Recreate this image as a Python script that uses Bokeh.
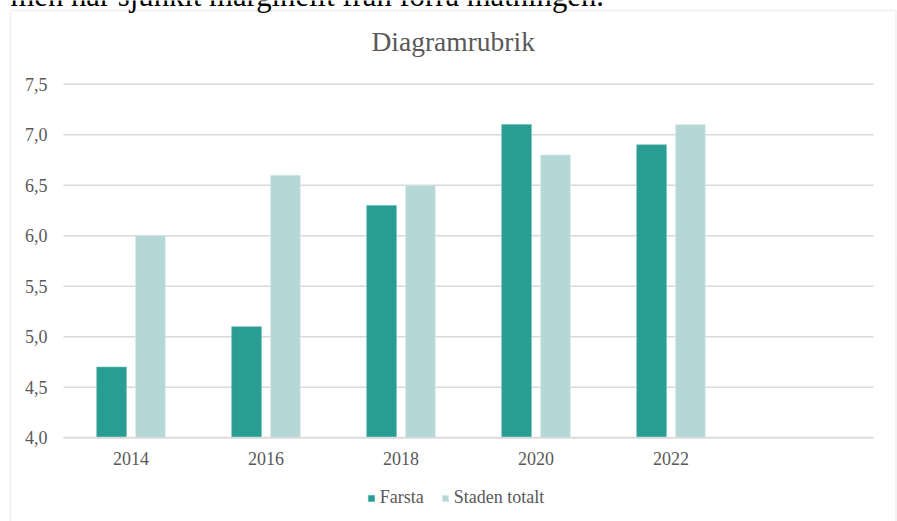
from bokeh.plotting import figure
from bokeh.models import (Range1d, ColumnDataSource, FixedTicker, Legend, LegendItem, Label,
                          BoxAnnotation, CustomJSTickFormatter)
from bokeh.transform import dodge
from bokeh.embed import file_html
from bokeh.resources import INLINE

# ---- data ----
years = ["2014", "2016", "2018", "2020", "2022", " "]
farsta = [4.7, 5.1, 6.3, 7.1, 6.9, None]
staden = [6.0, 6.6, 6.5, 6.8, 7.1, None]
y_ticks = [4.0, 4.5, 5.0, 5.5, 6.0, 6.5, 7.0, 7.5]
title_text = "Diagramrubrik"
series_names = ["Farsta", "Staden totalt"]
doc_text = "men har sjunkit marginellt från förra mätningen."

# ---- style ----
FONT = "Liberation Serif"
TXT = "#595959"
GRID = "#d9d9d9"
C1 = "#2a9d93"
C2 = "#b5d8d6"

W, H = 897, 521
NX = len(years)
Y0, Y1 = y_ticks[0], y_ticks[-1]
# plot-area placement inside the canvas (pixels)
PX_L, PX_R, PX_T, PX_B = 63.0, 873.0, 83.7, 437.3
ppx = (PX_R - PX_L) / NX
ppy = (PX_B - PX_T) / (Y1 - Y0)
x_start = -PX_L / ppx
x_end = NX + (W - PX_R) / ppx
y_end = Y1 + PX_T / ppy
y_start = Y0 - (H - PX_B) / ppy

def px_to_x(px):
    return x_start + px / ppx
def px_to_y(py):
    return y_end - py / ppy

nan = float("nan")
src = ColumnDataSource(dict(
    xc=[i + 0.5 for i in range(NX)],
    year=years,
    farsta=[v if v is not None else nan for v in farsta],
    staden=[v if v is not None else nan for v in staden]))

p = figure(width=W, height=H, output_backend="svg", toolbar_location=None,
           x_range=Range1d(x_start, x_end), y_range=Range1d(y_start, y_end),
           min_border=0, min_border_left=0, min_border_right=0, min_border_top=0, min_border_bottom=0)
p.outline_line_color = None
p.background_fill_color = "white"
p.border_fill_color = "white"
p.xgrid.visible = False
p.ygrid.visible = False

# horizontal grid lines over the category span
grid_src = ColumnDataSource(dict(x0=[0] * len(y_ticks), x1=[NX] * len(y_ticks), y=y_ticks))
p.segment(x0="x0", x1="x1", y0="y", y1="y", source=grid_src, line_color=GRID, line_width=1.5)

r1 = p.vbar(x=dodge("xc", -0.144), top="farsta", bottom=Y0, width=0.22,
            source=src, fill_color=C1, line_color="#5fb8b0", line_width=0.6)
r2 = p.vbar(x=dodge("xc", 0.144), top="staden", bottom=Y0, width=0.22,
            source=src, fill_color=C2, line_color="#d6ecea", line_width=0.6)

# y axis
p.yaxis.fixed_location = 0
p.yaxis.ticker = FixedTicker(ticks=y_ticks)
p.yaxis.formatter = CustomJSTickFormatter(code="return tick.toFixed(1).replace('.', ',');")
p.yaxis.axis_line_color = None
p.yaxis.major_tick_line_color = None
p.yaxis.minor_tick_line_color = None
p.yaxis.major_tick_out = 0
p.yaxis.major_tick_in = 0
p.yaxis.major_label_standoff = 16

# x axis (categories)
p.xaxis.fixed_location = Y0
p.xaxis.bounds = (0, NX)
p.xaxis.ticker = FixedTicker(ticks=[i + 0.5 for i in range(NX)])
p.xaxis.formatter = CustomJSTickFormatter(args=dict(labels=years),
                                          code="return labels[Math.floor(tick)];")
p.xaxis.axis_line_color = GRID
p.xaxis.axis_line_width = 1.5
p.xaxis.major_tick_line_color = None
p.xaxis.minor_tick_line_color = None
p.xaxis.major_tick_out = 0
p.xaxis.major_tick_in = 0
p.xaxis.major_label_standoff = 11

for ax in (p.xaxis, p.yaxis):
    ax.major_label_text_font = FONT
    ax.major_label_text_font_size = "18px"
    ax.major_label_text_color = TXT

# chart title
p.add_layout(Label(x=px_to_x(371), y=px_to_y(41), text=title_text, text_font=FONT,
                   text_font_size="27.5px", text_color=TXT, text_baseline="alphabetic"))

# legend
legend = Legend(items=[LegendItem(label=series_names[0], renderers=[r1]),
                       LegendItem(label=series_names[1], renderers=[r2])],
                orientation="horizontal", location=(366.7, 13),
                glyph_width=8, glyph_height=8, label_standoff=5, spacing=17,
                label_text_font=FONT, label_text_font_size="18px", label_text_color=TXT,
                border_line_color=None, background_fill_alpha=0, padding=0, margin=0)
p.add_layout(legend, "center")

# chart area border
p.add_layout(BoxAnnotation(left=px_to_x(10), right=px_to_x(895.5), top=px_to_y(10), bottom=px_to_y(600),
                           fill_alpha=0, line_color="#d0d0d0", line_width=1.5))

# cut-off sentence of the surrounding document
p.add_layout(Label(x=px_to_x(10), y=px_to_y(-4.5), text=doc_text, text_font=FONT,
                   text_font_size="30.7px", text_color="black", text_baseline="alphabetic"))

open("out.html", "w").write(file_html(p, INLINE))
